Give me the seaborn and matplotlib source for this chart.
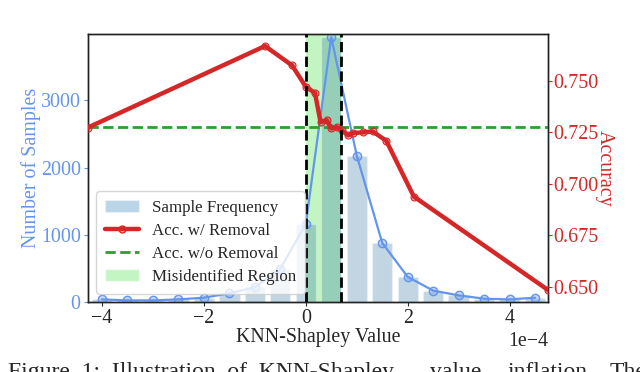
import numpy as np
import pandas as pd
import matplotlib
matplotlib.use("Agg")
import matplotlib.pyplot as plt
from matplotlib.ticker import MultipleLocator, FormatStrFormatter
from matplotlib.patches import Patch
from matplotlib.lines import Line2D
import seaborn as sns

# ---- data (x in units of 1e-4) ----
bin_centers = [-4.0, -3.5, -3.0, -2.5, -2.0, -1.5, -1.0, -0.5, 0.0, 0.5,
               1.0, 1.5, 2.0, 2.5, 3.0, 3.5, 4.0, 4.5]
sample_counts = [40, 25, 25, 40, 65, 130, 220, 495, 1160, 3940,
                 2180, 880, 375, 170, 100, 50, 40, 65]

acc_x = [-4.28, -0.80, -0.27, 0.0, 0.18, 0.29, 0.41, 0.50, 0.61, 0.71,
         0.83, 0.93, 1.12, 1.31, 1.58, 2.12, 4.75]
acc_removal = [0.7273, 0.7670, 0.7576, 0.7472, 0.7442, 0.7300, 0.7309, 0.7270,
               0.7275, 0.7260, 0.7236, 0.7247, 0.7250, 0.7255, 0.7209, 0.6938, 0.6484]
acc_baseline = 0.7275
region = [0.0, 0.70]
scale = 1e-4

caption_words = ["Figure  1:  Illustration  of  KNN-Shapley", "value", "inflation.", "The"]
caption_x_px = [8, 430, 507, 610]

sns.set_style("ticks")
plt.rcParams["font.family"] = ["Liberation Serif", "DejaVu Serif"]
plt.rcParams["axes.unicode_minus"] = True

BLUE = "#6495ED"
RED = "#d62728"
GREEN = "#2ca02c"

fig = plt.figure(figsize=(6.4, 3.72), dpi=100)
ax = fig.add_axes([0.137, 0.188, 0.719, 0.721])
ax2 = ax.twinx()

df_counts = pd.DataFrame({"x": np.array(bin_centers) * scale, "n": sample_counts})
df_acc = pd.DataFrame({"x": np.array(acc_x) * scale, "acc": acc_removal})

# bars
sns.barplot(data=df_counts, x="x", y="n", native_scale=True, width=0.8,
            color="#1f77b4", alpha=0.3, errorbar=None, ax=ax, zorder=1)
# misidentified region
ax.axvspan(region[0] * scale, region[1] * scale, color="lightgreen", alpha=0.55,
           lw=0, zorder=0.5)
# blue line
sns.lineplot(data=df_counts, x="x", y="n", ax=ax, color=BLUE, lw=1.6,
             marker="o", markersize=6, markeredgecolor=BLUE,
             markerfacecolor=(0.39, 0.58, 0.93, 0.35), markeredgewidth=1.0,
             zorder=3)

# accuracy lines
sns.lineplot(data=df_acc, x="x", y="acc", ax=ax2, color=RED, lw=3.2,
             marker="o", markersize=5, markeredgecolor=RED,
             markerfacecolor=(0.84, 0.15, 0.16, 0.3), markeredgewidth=0.8,
             zorder=3)
ax2.axhline(acc_baseline, color=GREEN, lw=2, ls="--", zorder=2)
for v in region:
    ax2.axvline(v * scale, color="black", lw=2, ls="--", zorder=4)

ax.set_xlim(acc_x[0] * scale, acc_x[-1] * scale)
ax.set_ylim(0, 3990)
ax.yaxis.set_major_locator(MultipleLocator(1000))
ax.xaxis.set_major_locator(MultipleLocator(2 * scale))
ax.ticklabel_format(axis="x", style="sci", scilimits=(0, 0))
ax2.yaxis.set_major_locator(MultipleLocator(0.025))
ax2.yaxis.set_major_formatter(FormatStrFormatter("%.3f"))

fs = 14.4
ax.set_xlabel("KNN-Shapley Value", fontsize=fs, labelpad=0)
ax.set_ylabel("Number of Samples", fontsize=fs, color=BLUE, labelpad=0)
ax2.set_ylabel("Accuracy", fontsize=fs, color=RED, rotation=270, labelpad=11)
ax.tick_params(axis="x", labelsize=fs, pad=2, length=3)
ax.tick_params(axis="y", labelsize=fs, colors=BLUE, pad=2, length=3)
ax2.tick_params(axis="y", labelsize=fs, colors=RED, pad=1, length=3)
ax.xaxis.get_offset_text().set_fontsize(fs)
for a in (ax, ax2):
    for s in a.spines.values():
        s.set_visible(True)
        s.set_color("#222222")
        s.set_linewidth(1.0)

handles = [
    Patch(facecolor="#1f77b4", alpha=0.3, label="Sample Frequency"),
    Line2D([], [], color=RED, lw=3.2, marker="o", markersize=5,
           markeredgecolor=RED, markerfacecolor=(0.84, 0.15, 0.16, 0.3),
           label="Acc. w/ Removal"),
    Line2D([], [], color=GREEN, lw=2, ls="--", label="Acc. w/o Removal"),
    Patch(facecolor="lightgreen", alpha=0.55, label="Misidentified Region"),
]
ax2.legend(handles=handles, loc="lower left", fontsize=12.2, framealpha=0.8,
           handlelength=2.0, borderpad=0.5, labelspacing=0.42)

for word, xp in zip(caption_words, caption_x_px):
    fig.text(xp / 640, 10 / 372, word, fontsize=17, va="top", ha="left")

fig.savefig("out.png", dpi=100)
